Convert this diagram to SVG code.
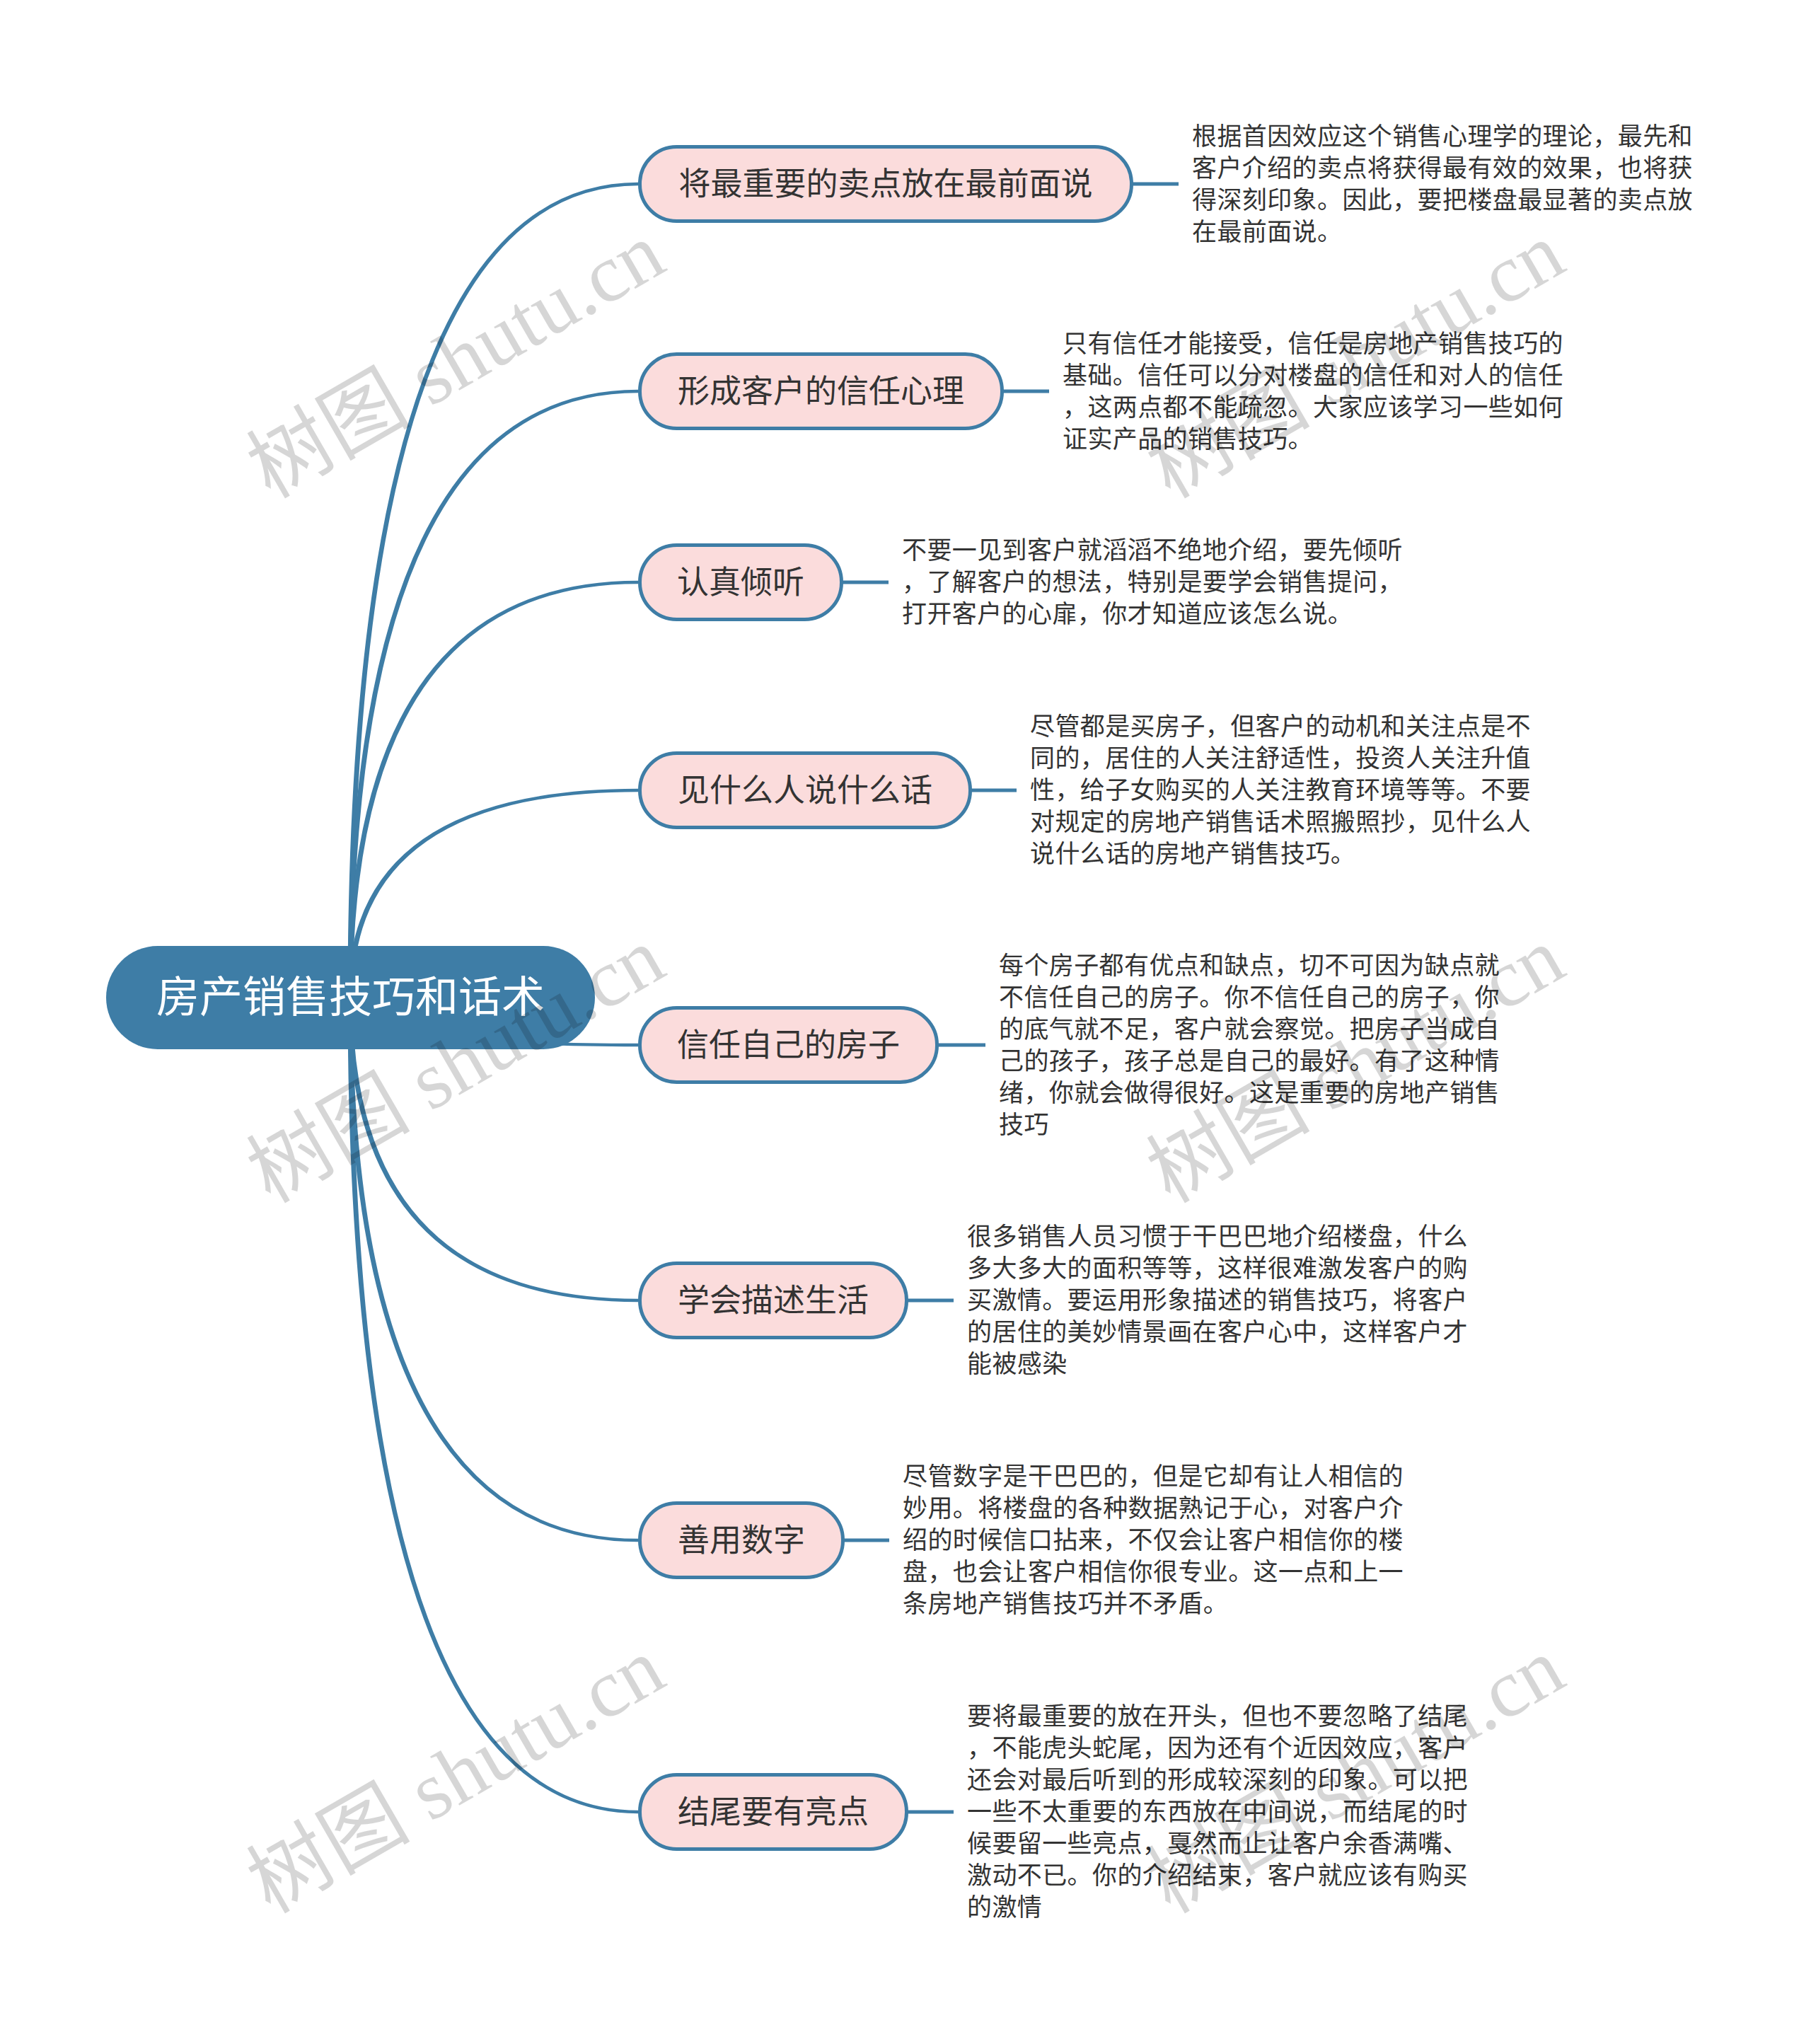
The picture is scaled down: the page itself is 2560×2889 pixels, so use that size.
<svg xmlns="http://www.w3.org/2000/svg" width="2560" height="2889" viewBox="0 0 2560 2889">
<style>
.conn{fill:#3e7da6;stroke:none}
.lk{stroke:#3e7da6;stroke-width:5;fill:none}
.node rect{fill:#fbdcdc;stroke:#3e7da6;stroke-width:5}
.nt{font-family:"Noto Sans CJK SC","Noto Sans",sans-serif;font-size:45px;fill:#333;text-anchor:middle}
.dt{font-family:"Noto Sans CJK SC","Noto Sans",sans-serif;font-size:35px;letter-spacing:0.4px;fill:#333}
.wm{font-family:"Liberation Serif","Noto Sans CJK SC",serif;font-size:116px;fill:#000;fill-opacity:0.16}
</style>
<rect width="2560" height="2889" fill="#ffffff"/>
<g id="connectors">
<path class="conn" d="M491.5 1410 Q491.5 257.8 902 257.8 L902 262.2 Q498.5 262.2 498.5 1410 Z"/>
<path class="conn" d="M491.5 1410 Q491.5 550.8 902 550.8 L902 555.2 Q498.5 555.2 498.5 1410 Z"/>
<path class="conn" d="M491.5 1410 Q491.5 820.8 902 820.8 L902 825.2 Q498.5 825.2 498.5 1410 Z"/>
<path class="conn" d="M491.5 1410 Q491.5 1114.8 902 1114.8 L902 1119.2 Q498.5 1119.2 498.5 1410 Z"/>
<path class="conn" d="M491.5 1410 Q491.5 1479.2 902 1479.2 L902 1474.8 Q498.5 1474.8 498.5 1410 Z"/>
<path class="conn" d="M491.5 1410 Q491.5 1840.2 902 1840.2 L902 1835.8 Q498.5 1835.8 498.5 1410 Z"/>
<path class="conn" d="M491.5 1410 Q491.5 2179.2 902 2179.2 L902 2174.8 Q498.5 2174.8 498.5 1410 Z"/>
<path class="conn" d="M491.5 1410 Q491.5 2563.2 902 2563.2 L902 2558.8 Q498.5 2558.8 498.5 1410 Z"/>
<line class="lk" x1="1600" y1="260" x2="1666" y2="260"/>
<line class="lk" x1="1417" y1="553" x2="1483" y2="553"/>
<line class="lk" x1="1190" y1="823" x2="1256" y2="823"/>
<line class="lk" x1="1372" y1="1117" x2="1437" y2="1117"/>
<line class="lk" x1="1325" y1="1477" x2="1393" y2="1477"/>
<line class="lk" x1="1282" y1="1838" x2="1348" y2="1838"/>
<line class="lk" x1="1192" y1="2177" x2="1257" y2="2177"/>
<line class="lk" x1="1282" y1="2561" x2="1348" y2="2561"/>
</g>
<g id="root">
<rect x="150" y="1337" width="691" height="146" rx="73" fill="#3e7da6"/>
<text x="495.5" y="1431" font-family="Noto Sans CJK SC, Noto Sans, sans-serif" font-size="61" fill="#ffffff" text-anchor="middle">房产销售技巧和话术</text>
</g>
<g id="n1" class="node">
<rect x="904.5" y="207.5" width="695" height="105" rx="52"/>
<text class="nt" x="1252" y="276">将最重要的卖点放在最前面说</text>
</g>
<g id="n2" class="node">
<rect x="904.5" y="500.5" width="512" height="105" rx="52"/>
<text class="nt" x="1160.5" y="569">形成客户的信任心理</text>
</g>
<g id="n3" class="node">
<rect x="904.5" y="770.5" width="285" height="105" rx="52"/>
<text class="nt" x="1047" y="839">认真倾听</text>
</g>
<g id="n4" class="node">
<rect x="904.5" y="1064.5" width="467" height="105" rx="52"/>
<text class="nt" x="1138" y="1133">见什么人说什么话</text>
</g>
<g id="n5" class="node">
<rect x="904.5" y="1424.5" width="420" height="105" rx="52"/>
<text class="nt" x="1114.5" y="1493">信任自己的房子</text>
</g>
<g id="n6" class="node">
<rect x="904.5" y="1785.5" width="377" height="105" rx="52"/>
<text class="nt" x="1093" y="1854">学会描述生活</text>
</g>
<g id="n7" class="node">
<rect x="904.5" y="2124.5" width="287" height="105" rx="52"/>
<text class="nt" x="1048" y="2193">善用数字</text>
</g>
<g id="n8" class="node">
<rect x="904.5" y="2508.5" width="377" height="105" rx="52"/>
<text class="nt" x="1093" y="2577">结尾要有亮点</text>
</g>
<g id="d1">
<text class="dt" x="1685" y="204.5">根据首因效应这个销售心理学的理论，最先和</text>
<text class="dt" x="1685" y="249.5">客户介绍的卖点将获得最有效的效果，也将获</text>
<text class="dt" x="1685" y="294.5">得深刻印象。因此，要把楼盘最显著的卖点放</text>
<text class="dt" x="1685" y="339.5">在最前面说。</text>
</g>
<g id="d2">
<text class="dt" x="1502" y="497.5">只有信任才能接受，信任是房地产销售技巧的</text>
<text class="dt" x="1502" y="542.5">基础。信任可以分对楼盘的信任和对人的信任</text>
<text class="dt" x="1502" y="587.5">，这两点都不能疏忽。大家应该学习一些如何</text>
<text class="dt" x="1502" y="632.5">证实产品的销售技巧。</text>
</g>
<g id="d3">
<text class="dt" x="1275" y="790">不要一见到客户就滔滔不绝地介绍，要先倾听</text>
<text class="dt" x="1275" y="835">，了解客户的想法，特别是要学会销售提问，</text>
<text class="dt" x="1275" y="880">打开客户的心扉，你才知道应该怎么说。</text>
</g>
<g id="d4">
<text class="dt" x="1456" y="1039">尽管都是买房子，但客户的动机和关注点是不</text>
<text class="dt" x="1456" y="1084">同的，居住的人关注舒适性，投资人关注升值</text>
<text class="dt" x="1456" y="1129">性，给子女购买的人关注教育环境等等。不要</text>
<text class="dt" x="1456" y="1174">对规定的房地产销售话术照搬照抄，见什么人</text>
<text class="dt" x="1456" y="1219">说什么话的房地产销售技巧。</text>
</g>
<g id="d5">
<text class="dt" x="1412" y="1376.5">每个房子都有优点和缺点，切不可因为缺点就</text>
<text class="dt" x="1412" y="1421.5">不信任自己的房子。你不信任自己的房子，你</text>
<text class="dt" x="1412" y="1466.5">的底气就不足，客户就会察觉。把房子当成自</text>
<text class="dt" x="1412" y="1511.5">己的孩子，孩子总是自己的最好。有了这种情</text>
<text class="dt" x="1412" y="1556.5">绪，你就会做得很好。这是重要的房地产销售</text>
<text class="dt" x="1412" y="1601.5">技巧</text>
</g>
<g id="d6">
<text class="dt" x="1367" y="1760">很多销售人员习惯于干巴巴地介绍楼盘，什么</text>
<text class="dt" x="1367" y="1805">多大多大的面积等等，这样很难激发客户的购</text>
<text class="dt" x="1367" y="1850">买激情。要运用形象描述的销售技巧，将客户</text>
<text class="dt" x="1367" y="1895">的居住的美妙情景画在客户心中，这样客户才</text>
<text class="dt" x="1367" y="1940">能被感染</text>
</g>
<g id="d7">
<text class="dt" x="1276" y="2099">尽管数字是干巴巴的，但是它却有让人相信的</text>
<text class="dt" x="1276" y="2144">妙用。将楼盘的各种数据熟记于心，对客户介</text>
<text class="dt" x="1276" y="2189">绍的时候信口拈来，不仅会让客户相信你的楼</text>
<text class="dt" x="1276" y="2234">盘，也会让客户相信你很专业。这一点和上一</text>
<text class="dt" x="1276" y="2279">条房地产销售技巧并不矛盾。</text>
</g>
<g id="d8">
<text class="dt" x="1367" y="2438">要将最重要的放在开头，但也不要忽略了结尾</text>
<text class="dt" x="1367" y="2483">，不能虎头蛇尾，因为还有个近因效应，客户</text>
<text class="dt" x="1367" y="2528">还会对最后听到的形成较深刻的印象。可以把</text>
<text class="dt" x="1367" y="2573">一些不太重要的东西放在中间说，而结尾的时</text>
<text class="dt" x="1367" y="2618">候要留一些亮点，戛然而止让客户余香满嘴、</text>
<text class="dt" x="1367" y="2663">激动不已。你的介绍结束，客户就应该有购买</text>
<text class="dt" x="1367" y="2708">的激情</text>
</g>
<g id="watermarks">
<text class="wm" transform="translate(382 706) rotate(-30)">树图 shutu.cn</text>
<text class="wm" transform="translate(1654 706) rotate(-30)">树图 shutu.cn</text>
<text class="wm" transform="translate(382 1702) rotate(-30)">树图 shutu.cn</text>
<text class="wm" transform="translate(1654 1702) rotate(-30)">树图 shutu.cn</text>
<text class="wm" transform="translate(382 2706) rotate(-30)">树图 shutu.cn</text>
<text class="wm" transform="translate(1654 2706) rotate(-30)">树图 shutu.cn</text>
</g>
</svg>
